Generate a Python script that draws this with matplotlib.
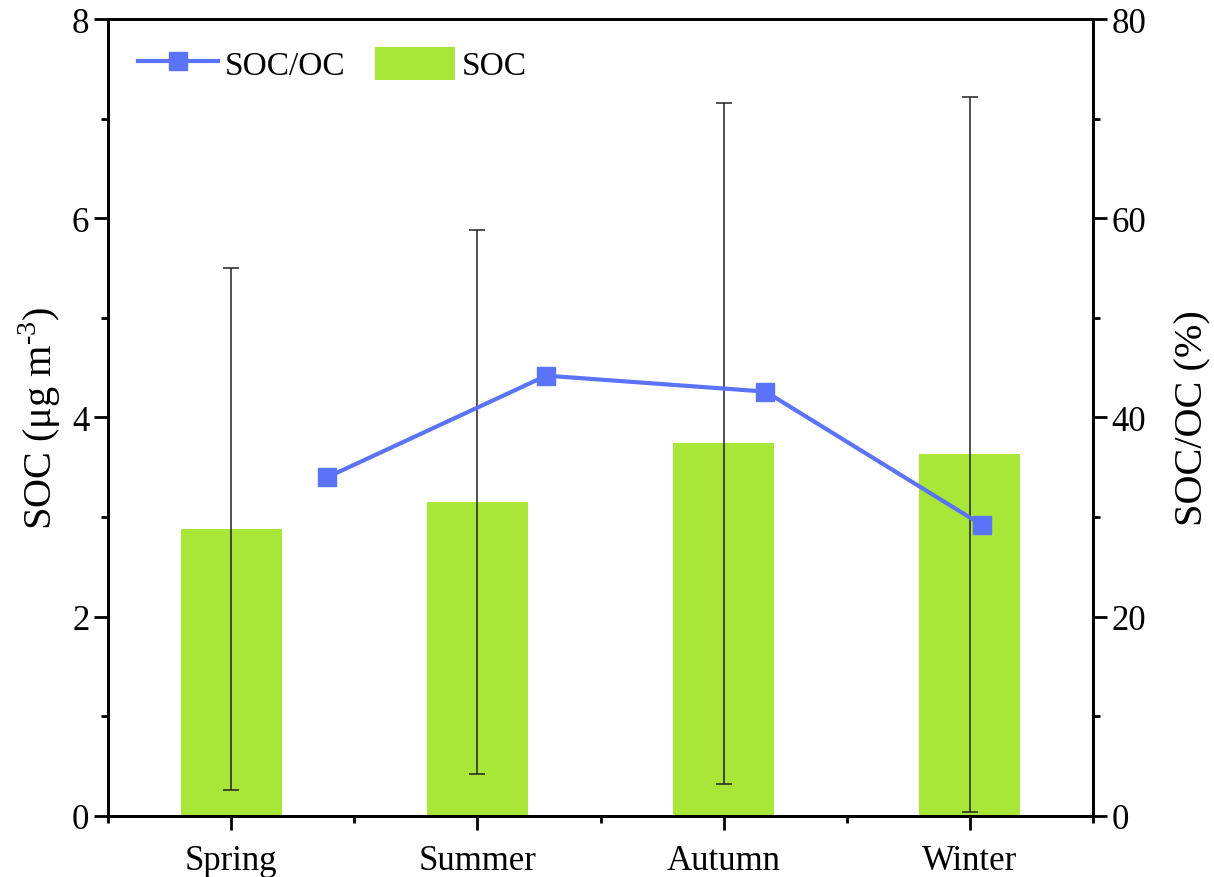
import numpy as np
import matplotlib.pyplot as plt
from matplotlib.ticker import MultipleLocator, FixedLocator

plt.rcParams['font.family'] = ['Liberation Serif', 'DejaVu Serif']
plt.rcParams['mathtext.fontset'] = 'custom'
plt.rcParams['mathtext.rm'] = 'Liberation Serif'

seasons = ["Spring", "Summer", "Autumn", "Winter"]
soc = [2.88, 3.15, 3.74, 3.63]
soc_sd = [2.62, 2.73, 3.42, 3.59]
# line markers sit a bit off the bar centres in the original
ratio_x = [0.39, 1.28, 2.17, 3.05]
soc_oc = [34.0, 44.2, 42.6, 29.2]

bar_col = "#A8E637"
line_col = "#5B73F8"

fig = plt.figure(figsize=(12.14, 8.78), dpi=100)
ax = fig.add_axes([0.089, 0.0695, 0.8113, 0.9077])
x = np.arange(len(seasons))

bars = ax.bar(x, soc, width=0.41, color=bar_col, label="SOC", zorder=2)
ax.errorbar(x, soc, yerr=soc_sd, fmt="none", ecolor="#222222", elinewidth=1.1,
            capsize=6, capthick=1.1, zorder=3)

ax.set_xlim(-0.5, 3.5)
ax.set_ylim(0, 8)
ax.set_xticks(x)
ax.set_xticklabels(seasons)
ax.xaxis.set_minor_locator(FixedLocator([-0.5, 0.5, 1.5, 2.5, 3.5]))
ax.yaxis.set_major_locator(MultipleLocator(2))
ax.yaxis.set_minor_locator(MultipleLocator(1))
ax.set_ylabel("SOC (μg m$^{\\text{-3}}$)", fontsize=29, labelpad=6)

ax2 = ax.twinx()
ln, = ax2.plot(ratio_x, soc_oc, color=line_col, lw=3, marker="s", ms=13,
               label="SOC/OC", zorder=4)
ax2.set_ylim(0, 80)
ax2.yaxis.set_major_locator(MultipleLocator(20))
ax2.yaxis.set_minor_locator(MultipleLocator(10))
ax2.set_ylabel("SOC/OC (%)", fontsize=29, labelpad=20)

for a in (ax, ax2):
    for s in a.spines.values():
        s.set_linewidth(2)
    a.tick_params(which="major", direction="out", length=10, width=2, labelsize=25)
    a.tick_params(which="minor", direction="out", length=5, width=2)
ax.tick_params(axis="x", which="major", pad=10)
ax.tick_params(axis="y", which="both", right=False)

ax2.legend([ln, bars], ["SOC/OC", "SOC"], loc="upper left", ncol=2, frameon=False,
           fontsize=24, handlelength=2.4, handleheight=1.15, columnspacing=0.9,
           handletextpad=0.2, bbox_to_anchor=(0.0, 1.003))

fig.savefig("out.png", dpi=100)
